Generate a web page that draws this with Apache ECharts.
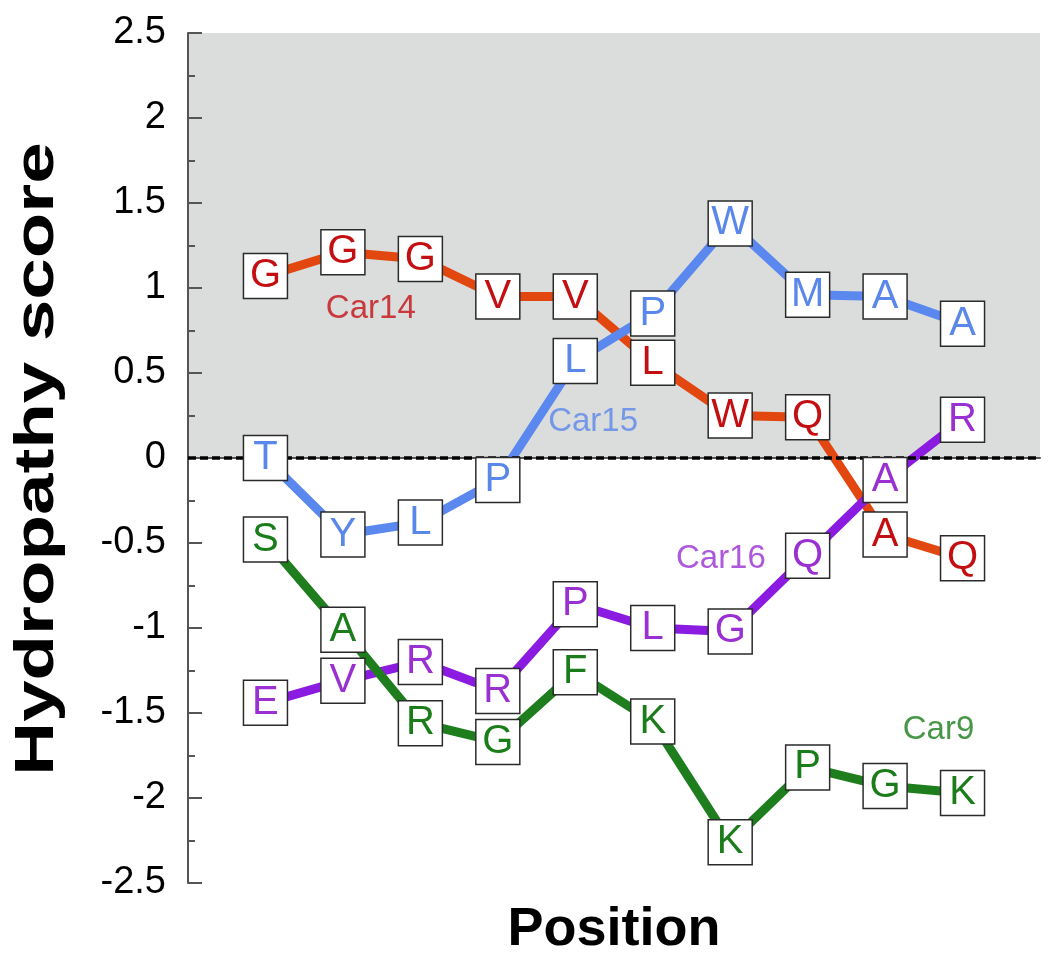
<!DOCTYPE html>
<html>
<head>
<meta charset="utf-8">
<script src="https://cdn.jsdelivr.net/npm/echarts@6/dist/echarts.min.js"></script>
<style>
  html, body { margin: 0; padding: 0; background: #fff; }
  #chart { width: 1050px; height: 962px; }
</style>
</head>
<body>
<div id="chart"></div>
<script>
// positions along the peptide
const positions = [1, 2, 3, 4, 5, 6, 7, 8, 9, 10];

// residues at each position
const car14Seq = ['G', 'G', 'G', 'V', 'V', 'L', 'W', 'Q', 'A', 'Q'];
const car15Seq = ['T', 'Y', 'L', 'P', 'L', 'P', 'W', 'M', 'A', 'A'];
const car16Seq = ['E', 'V', 'R', 'R', 'P', 'L', 'G', 'Q', 'A', 'R'];
const car9Seq  = ['S', 'A', 'R', 'G', 'F', 'K', 'K', 'P', 'G', 'K'];

// hydropathy scores
const car14 = [1.07, 1.21, 1.17, 0.95, 0.95, 0.56, 0.25, 0.24, -0.45, -0.59];
const car15 = [0.0, -0.45, -0.38, -0.13, 0.57, 0.85, 1.38, 0.96, 0.95, 0.79];
const car16 = [-1.44, -1.31, -1.20, -1.37, -0.86, -1.0, -1.02, -0.575, -0.13, 0.225];
const car9  = [-0.48, -1.01, -1.56, -1.67, -1.26, -1.55, -2.26, -1.82, -1.93, -1.97];

// where the peptide names sit (data coords)
const peptideNames = ['Car14', 'Car15', 'Car16', 'Car9'];
const nameX = [2.36, 5.23, 6.88, 9.69];
const nameY = [0.876, 0.21, -0.595, -1.60];

const FONT = 'Arial, "Liberation Sans", Helvetica, sans-serif';

const peptides = [
  { name: 'Car14', seq: car14Seq, vals: car14, line: '#e2470f', text: '#c40f12' },
  { name: 'Car15', seq: car15Seq, vals: car15, line: '#5b88ee', text: '#5a87ea' },
  { name: 'Car16', seq: car16Seq, vals: car16, line: '#8b1be0', text: '#9a2fd2' },
  { name: 'Car9',  seq: car9Seq,  vals: car9,  line: '#1e7e1e', text: '#1a7d1a' }
];

const series = [];

// shaded hydrophobic region + dashed zero line
series.push({
  type: 'line',
  data: [],
  silent: true,
  markArea: {
    silent: true,
    z: 0,
    itemStyle: { color: '#dbdcdc' },
    data: [[{ yAxis: 0 }, { yAxis: 2.5 }]]
  },
  markLine: {
    silent: true,
    z: 3,
    symbol: 'none',
    label: { show: false },
    lineStyle: { color: '#000', type: [8, 4], width: 3.5 },
    data: [{ yAxis: 0 }]
  }
});

// the lines
peptides.forEach(p => {
  series.push({
    name: p.name,
    type: 'line',
    z: 2,
    showSymbol: false,
    silent: true,
    lineStyle: { color: p.line, width: 9 },
    data: positions.map((x, i) => [x, p.vals[i]])
  });
});

// the residue boxes
peptides.forEach(p => {
  series.push({
    name: p.name + ' residues',
    type: 'scatter',
    z: 5,
    silent: true,
    symbol: 'rect',
    symbolSize: [44, 45],
    itemStyle: { color: '#fff', borderColor: '#2a2a2a', borderWidth: 1.5, opacity: 1 },
    label: {
      show: true,
      position: 'inside',
      formatter: prm => prm.name,
      color: p.text,
      fontFamily: FONT,
      fontSize: 40
    },
    data: positions.map((x, i) => ({ name: p.seq[i], value: [x, p.vals[i]] }))
  });
});

// peptide names
series.push({
  type: 'scatter',
  z: 6,
  silent: true,
  symbolSize: 0,
  label: {
    show: true,
    position: 'inside',
    formatter: prm => prm.name,
    fontFamily: FONT,
    fontSize: 33
  },
  data: peptideNames.map((n, i) => ({
    name: n,
    value: [nameX[i], nameY[i]],
    label: { color: peptides[i].text }
  }))
});

const chart = echarts.init(document.getElementById('chart'), null, { renderer: 'canvas' });
chart.setOption({
  animation: false,
  backgroundColor: '#fff',
  grid: { left: 188, right: 10, top: 33, bottom: 76 },
  // y axis title, stretched along its length like the original
  graphic: [{
    type: 'text',
    x: 38,
    y: 459,
    rotation: Math.PI / 2,
    scaleX: 1.33,
    silent: true,
    style: {
      text: 'Hydropathy score',
      font: 'bold 56px ' + FONT,
      fill: '#000',
      textAlign: 'center',
      textVerticalAlign: 'middle'
    }
  }],
  xAxis: {
    type: 'value',
    min: 0,
    max: 11,
    name: 'Position',
    nameLocation: 'middle',
    nameGap: 20,
    nameTextStyle: { fontFamily: FONT, fontSize: 54, fontWeight: 'bold', color: '#000' },
    axisLine: { show: true, lineStyle: { color: '#555', width: 2 } },
    axisTick: { show: false },
    axisLabel: { show: false },
    splitLine: { show: false }
  },
  yAxis: {
    type: 'value',
    min: -2.5,
    max: 2.5,
    interval: 0.5,
    axisLine: { show: true, lineStyle: { color: '#555', width: 2 } },
    axisTick: { show: true, inside: true, length: 14, lineStyle: { color: '#555', width: 2 } },
    minorTick: { show: true, splitNumber: 2, length: 7, lineStyle: { color: '#555', width: 2 } },
    axisLabel: { fontFamily: FONT, fontSize: 38, color: '#000', margin: 22 },
    splitLine: { show: false }
  },
  series: series
});
</script>
</body>
</html>
